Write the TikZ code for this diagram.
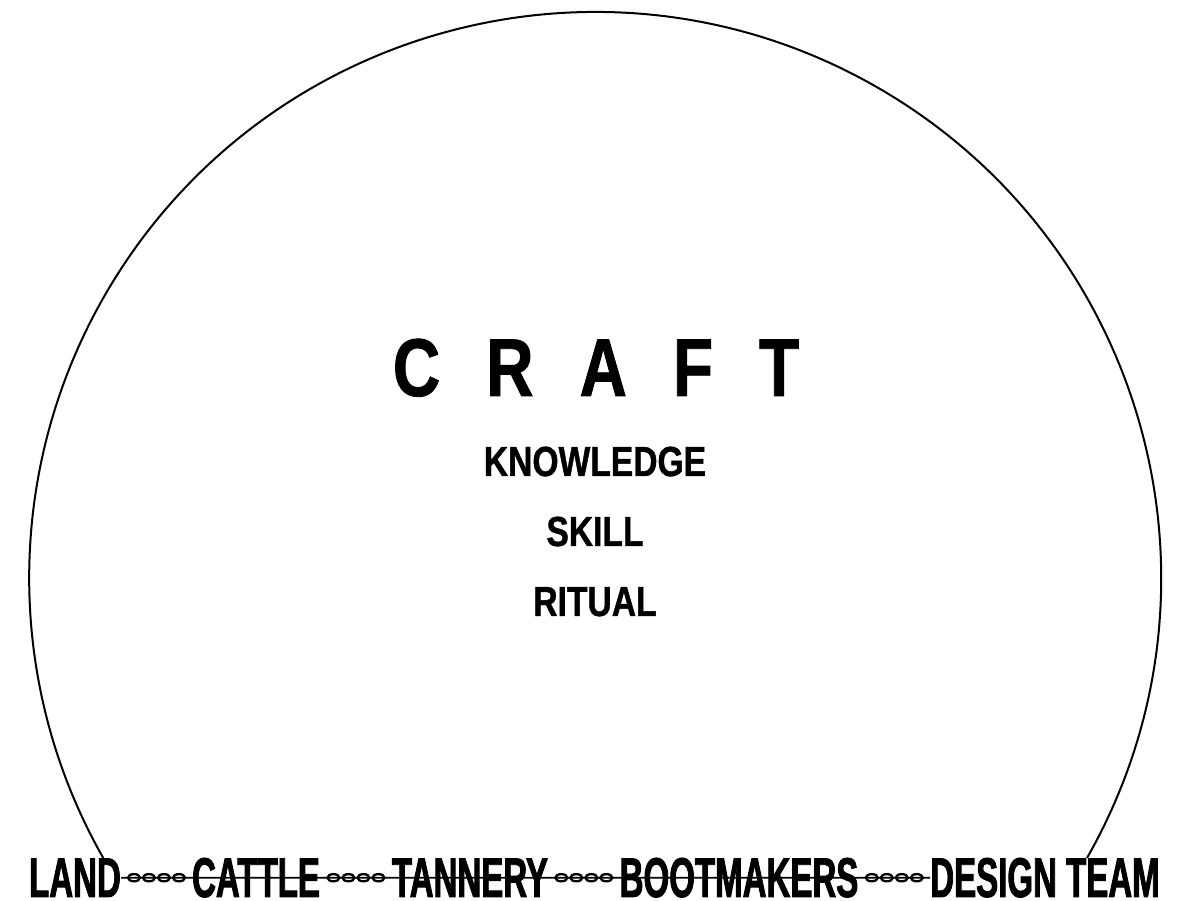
\documentclass[tikz,border=0pt]{standalone}
\usepackage{fontspec}
\setmainfont{Liberation Sans}
\newfontfamily\condfont[FakeStretch=0.59,FakeBold=1.5]{Liberation Sans}
\newfontfamily\midfont[FakeStretch=0.8,FakeBold=1]{Liberation Sans}
\usetikzlibrary{positioning}

\tikzset{
  stage/.style={inner sep=0pt, anchor=base, font=\condfont\bfseries\fontsize{56}{60}\selectfont},
  theme/.style={inner sep=0pt, anchor=base, font=\midfont\bfseries\fontsize{42}{46}\selectfont},
  chain/.pic={
    \foreach \dx in {-22.5,-7.5,7.5,22.5}
      \draw[line width=2.3pt] (\dx,0) ellipse [x radius=6, y radius=3.6];
  }
}

\begin{document}
\begin{tikzpicture}[x=1pt, y=1pt]
  \useasboundingbox (0,0) rectangle (1183,901);
  % dome
  \draw[line width=2pt] (1087,43) arc[start angle=-29.65, end angle=209.65, radius=566];
  % centre words
  \node[inner sep=0pt, anchor=base, font=\midfont\bfseries\fontsize{82}{90}\selectfont] (craft) at (596,505)
    {C\hspace{46pt}R\hspace{46pt}A\hspace{46pt}F\hspace{46pt}T};
  \node[theme] (know) at (595,425) {KNOWLEDGE};
  \node[theme] (skill) at (595,355) {SKILL};
  \node[theme] (ritual) at (595,285) {RITUAL};
  % supply chain
  \node[stage] (land) at (75,4) {LAND};
  \node[stage] (cattle) at (256,4) {CATTLE};
  \node[stage] (tannery) at (470,4) {TANNERY};
  \node[stage] (boot) at (739,4) {BOOTMAKERS};
  \node[stage] (design) at (1045,4) {DESIGN TEAM};
  \draw[line width=1.6pt] (land.east) -- (design.west);
  \path (land.east) -- (cattle.west) coordinate[midway] (c1);
  \path (cattle.east) -- (tannery.west) coordinate[midway] (c2);
  \path (tannery.east) -- (boot.west) coordinate[midway] (c3);
  \path (boot.east) -- (design.west) coordinate[midway] (c4);
  \foreach \c in {c1,c2,c3,c4}
    \pic at (\c) {chain};
\end{tikzpicture}
\end{document}
